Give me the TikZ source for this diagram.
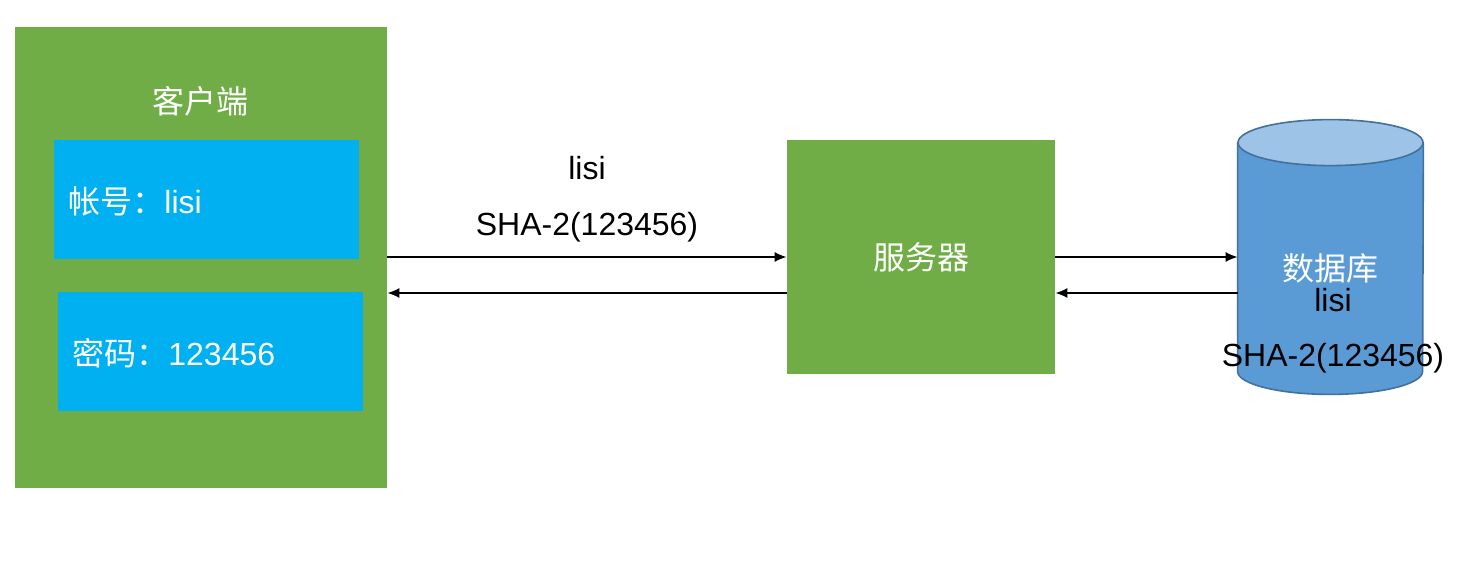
\documentclass[tikz,border=0pt]{standalone}
\usepackage{fontspec}
\setmainfont{Liberation Sans}
\newfontfamily\cjk{Noto Sans CJK SC}
\usetikzlibrary{calc,arrows.meta}
\definecolor{boxgreen}{HTML}{70AD47}
\definecolor{boxblue}{HTML}{00B0F0}
\definecolor{dbfill}{HTML}{5B9BD5}
\definecolor{dbtop}{HTML}{9DC3E6}
\definecolor{dbline}{HTML}{41719C}

\begin{document}
\begin{tikzpicture}[x=.5pt,y=.5pt,
    greenbox/.style={fill=boxgreen,inner sep=0pt},
    bluebox/.style={fill=boxblue,inner sep=0pt,minimum width=152.5pt,minimum height=59.5pt},
    txt/.style={inner sep=0pt,font=\fontsize{16}{19}\selectfont},
    link/.style={line width=.75pt,-{Latex[length=6pt,width=5pt]}}]
        \useasboundingbox (0, 0) rectangle (1464, 564);
        \node[greenbox,minimum width=186pt,minimum height=230.5pt] (client) at (201, 306.5) {};
        \node[bluebox] (acct) at (206.5, 364.5) {};
        \node[bluebox] (pwd) at (210.5, 212.5) {};
        \node[txt,text=white] (clientname) at (200, 463) {\cjk 客户端};
        \node[txt,text=white,anchor=west] (accttext) at (68, 363) {{\cjk 帐号：}lisi};
        \node[txt,text=white,anchor=west] (pwdtext) at (72, 211) {{\cjk 密码：}123456};
        \node[greenbox,minimum width=134pt,minimum height=117pt,txt,text=white] (server) at (921, 307) {\cjk 服务器};
        \node[minimum width=92.5pt,minimum height=114pt,inner sep=0pt] (db) at (1330.5, 307) {};
        \filldraw[fill=dbfill,draw=dbline,line width=.8pt](db.north west) -- (db.south west) arc[start angle=180,end angle=360,x radius=46.25pt,y radius=11.5pt] -- (db.north east);
        \filldraw[fill=dbtop,draw=dbline,line width=.8pt](db.north) ellipse[x radius=46.25pt,y radius=11.5pt];
        \node[txt,text=white] (dbname) at (1330, 296) {\cjk 数据库};
        \node[txt] (dbuser) at (1333, 264) {lisi};
        \node[txt] (dbhash) at (1333, 206) {SHA-2(123456)};
        \node[txt] (senduser) at (587, 396) {lisi};
        \node[txt] (sendhash) at (587, 337) {SHA-2(123456)};
        \coordinate (back) at ([yshift=-18pt]server.west);
        \draw[link](client.east |- server.west) -- (server.west);
        \draw[link](back) -- (back -| client.east);
        \draw[link](server.east) -- (db.west);
        \draw[link](back -| db.west) -- (back -| server.east);
    \end{tikzpicture}
\end{document}
